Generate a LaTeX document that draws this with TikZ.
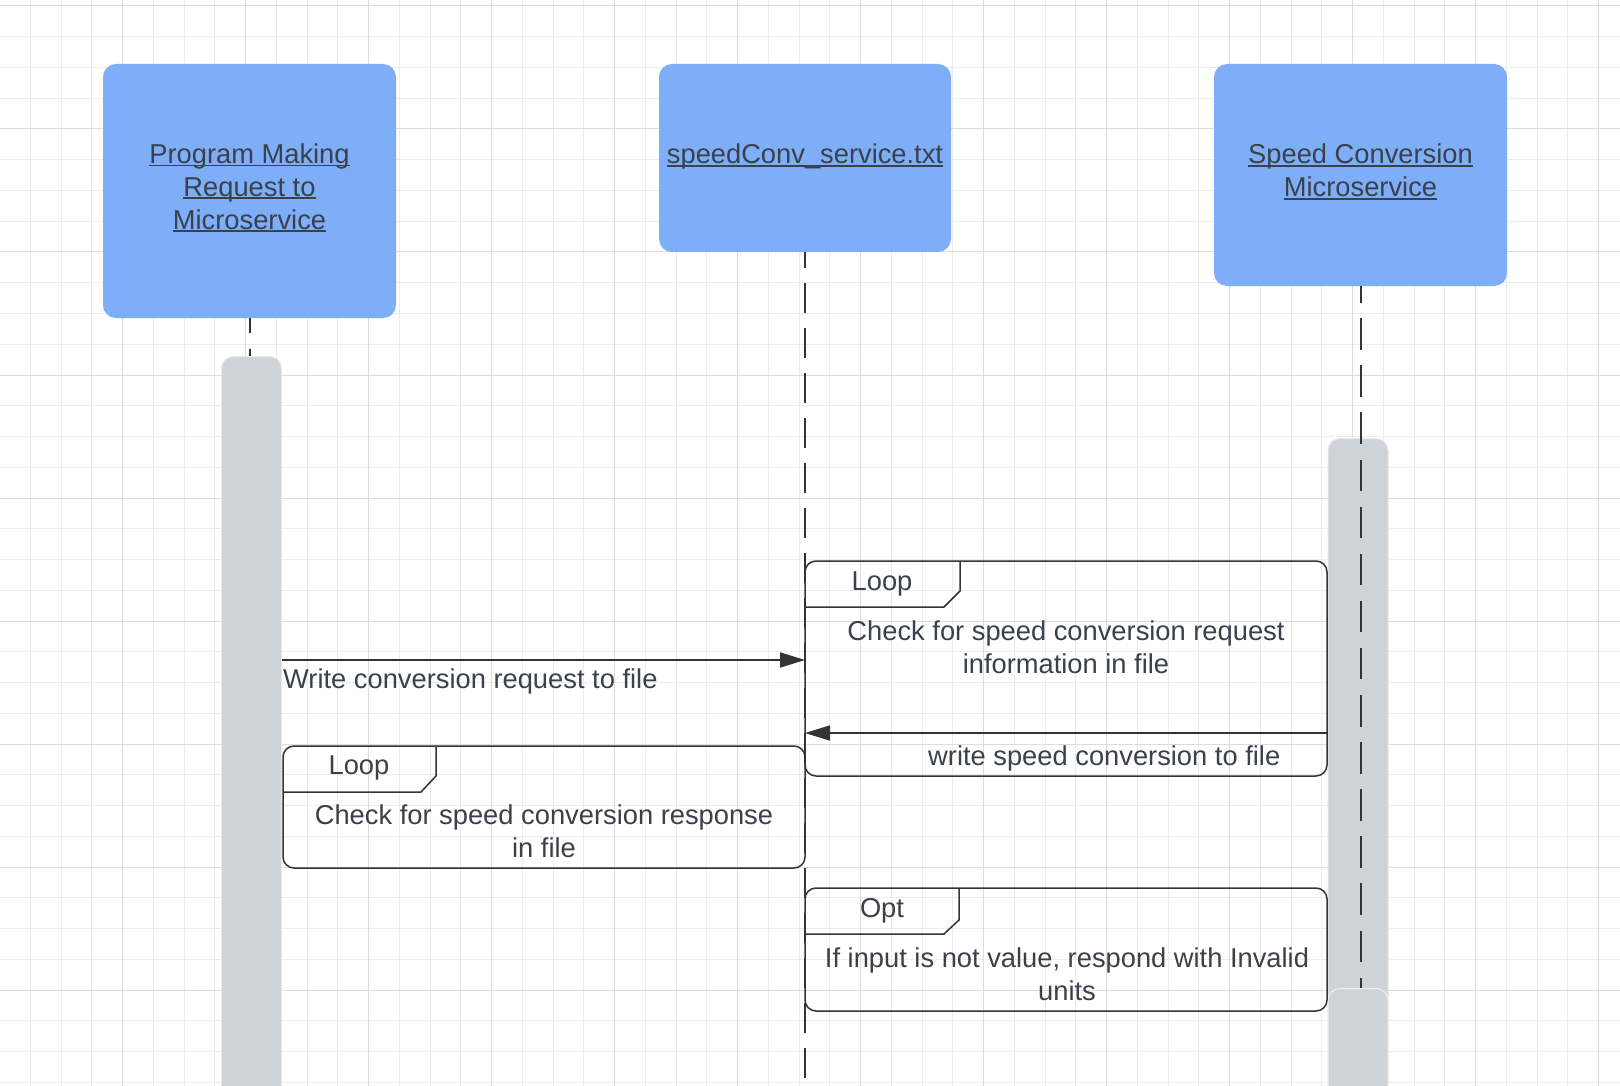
\documentclass[tikz,border=0pt]{standalone}
\usepackage{fontspec}
\setmainfont{Liberation Sans}
\usetikzlibrary{arrows.meta,calc}
\definecolor{gridminor}{HTML}{ECECEC}
\definecolor{gridmajor}{HTML}{DCDCDC}
\definecolor{boxblue}{HTML}{7DAEF7}
\definecolor{barfill}{HTML}{CED3DA}
\definecolor{barline}{HTML}{E6E8EB}
\definecolor{ink}{HTML}{3A414A}
\definecolor{linecol}{HTML}{333333}
\newcommand\ulx[1]{\setbox0\hbox{#1}\rlap{\rule[-2.9pt]{\wd0}{1.9pt}}\box0}
\tikzset{
  txt/.style={font=\fontsize{27.3}{32.8}\selectfont, text=ink, inner sep=0pt, align=center},
  actor/.style={txt, fill=boxblue, draw=none, rounded corners=13pt},
  actbar/.style={fill=barfill, draw=barline, line width=1pt, rounded corners=12pt, anchor=north, minimum width=60pt, inner sep=0pt},
  lifeA/.style={draw=linecol, line width=2pt, dash pattern=on 31.5pt off 15.6pt},
  lifeB/.style={draw=linecol, line width=2pt, dash pattern=on 29.5pt off 15.5pt},
  frameb/.style={draw=linecol, line width=1.5pt, rounded corners=11pt, anchor=north west, outer sep=0pt, inner sep=0pt},
  tabline/.style={draw=linecol, line width=1.5pt},
  msg/.style={draw=linecol, line width=1.7pt, -{Triangle[length=25pt,width=15pt]}},
}
\begin{document}
\begin{tikzpicture}[x=1pt,y=-1pt]
\clip (0,0) rectangle (1620,1086);
\fill[white] (0,0) rectangle (1620,1086);
% grid
\foreach \k in {0,...,53} \draw[gridminor, line width=1pt] ({-0.5+30.75*\k},0) -- ({-0.5+30.75*\k},1086);
\foreach \k in {0,...,35} \draw[gridminor, line width=1pt] (0,{6+30.75*\k}) -- (1620,{6+30.75*\k});
\foreach \k in {0,...,13} \draw[gridmajor, line width=1pt] ({-0.5+123*\k},0) -- ({-0.5+123*\k},1086);
\foreach \k in {0,...,8} \draw[gridmajor, line width=1pt] (0,{6+123*\k}) -- (1620,{6+123*\k});

% participants
\node[actor, text depth=9pt, minimum width=293pt, minimum height=254pt] (box1) at (249.5,191)
  {\ulx{Program Making}\\\ulx{Request to}\\\ulx{Microservice}};
\node[actor, text depth=8pt, minimum width=292pt, minimum height=188pt] (box2) at (805,158)
  {\ulx{speedConv\_service.txt}};
\node[actor, text depth=9pt, minimum width=293pt, minimum height=222pt] (box3) at (1360.5,175)
  {\ulx{Speed Conversion}\\\ulx{Microservice}};

% activation bars
\node[actbar, minimum height=800pt] (bar1) at (251.5,356) {};
\node[actbar, minimum height=700pt] (bar3a) at (1358,438) {};

% lifelines
\coordinate (ll2end) at (805,1095);
\coordinate (ll3end) at (1360.5,1095);
\draw[lifeA, dash phase=16.5pt] (box1.south) -- (box1.south |- bar1.north);
\draw[lifeA, dash phase=15.1pt] (box3.south) -- (ll3end);
\draw[lifeB, dash phase=14pt] (box2.south) -- (ll2end);
\node[actbar, draw=barline!60!white, minimum height=200pt] (bar3b) at (1358,988) {};

% frames
\node[frameb, minimum width=522pt, minimum height=215pt] (fA) at (805,561) {};
\draw[tabline] ($(fA.north west)+(0,46)$) -- ++(139,0) -- ++(16,-16) -- ++(0,-30);
\node[txt, anchor=base] (tabA) at (882,590) {Loop};
\node[txt, anchor=base] (bodyA) at (1066,673) {Check for speed conversion request\\information in file};

\node[frameb, minimum width=522pt, minimum height=122pt] (fB) at (283,746) {};
\draw[tabline] ($(fB.north west)+(0,46)$) -- ++(138,0) -- ++(15,-16) -- ++(0,-30);
\node[txt, anchor=base] (tabB) at (359,774) {Loop};
\node[txt, anchor=base] (bodyB) at (544,857) {Check for speed conversion response\\in file};

\node[frameb, minimum width=522pt, minimum height=123pt] (fC) at (805,888) {};
\draw[tabline] ($(fC.north west)+(0,46)$) -- ++(139,0) -- ++(15,-14) -- ++(0,-32);
\node[txt, anchor=base] (tabC) at (882,917) {Opt};
\node[txt, anchor=base] (bodyC) at (1067,1000) {If input is not value, respond with Invalid\\units};

% messages
\coordinate (m1) at (805,660);
\coordinate (m2) at (805,733);
\draw[msg] (bar1.east |- m1) -- (m1);
\node[txt, anchor=base west] (lab1) at (283,688) {Write conversion request to file};
\draw[msg] (bar3a.west |- m2) -- (m2);
\node[txt, anchor=base west] (lab2) at (928,765) {write speed conversion to file};
\end{tikzpicture}
\end{document}
